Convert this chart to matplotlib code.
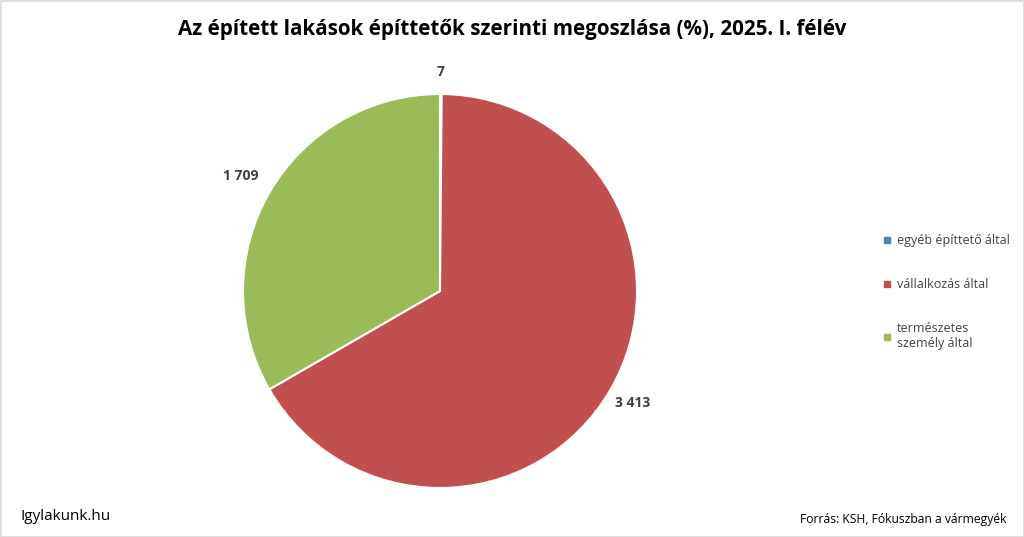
import numpy as np
import matplotlib
matplotlib.use("Agg")
import matplotlib.pyplot as plt
from matplotlib.patches import Rectangle
from matplotlib.lines import Line2D

plt.rcParams['font.family'] = ['Open Sans', 'DejaVu Sans']

categories = ["egyéb építtető által", "vállalkozás által", "természetes\nszemély által"]
values = [7, 3413, 1709]
value_labels = ["7", "3 413", "1 709"]
colors = ["#4F81BD", "#C0504D", "#9BBB59"]
label_dist = [1.11, 1.13, 1.17]

fig = plt.figure(figsize=(10.24, 5.37), dpi=100)
fig.patch.set_facecolor("white")

ax = fig.add_axes([243/1024, 49/537, 394/1024, 394/537])
wedges, _ = ax.pie(values, colors=colors, startangle=90, counterclock=False,
                   wedgeprops=dict(edgecolor="white", linewidth=1.5), radius=1)
ax.set_xlim(-1, 1)
ax.set_ylim(-1, 1)
ax.set_aspect("equal", adjustable="box")
ax.axis("off")

for w, lab, d in zip(wedges, value_labels, label_dist):
    ang = np.deg2rad((w.theta1 + w.theta2) / 2)
    ax.text(d * np.cos(ang), d * np.sin(ang), lab, ha="center", va="center",
            fontsize=10, fontweight="bold", color="#404040", clip_on=False)

fig.text(0.5, 1 - 30/537, "Az épített lakások építtetők szerinti megoszlása (%), 2025. I. félév",
         ha="center", va="center", fontsize=14.9, fontweight="bold", color="black")

handles = [Line2D([0], [0], marker="s", linestyle="none", markersize=4.5,
                  markerfacecolor=c, markeredgecolor=c) for c in colors]
leg = fig.legend(handles, categories, loc="upper left", bbox_to_anchor=(878/1024, 1 - 229/537),
                 frameon=False, fontsize=9, labelspacing=2.5, handlelength=0.6,
                 handletextpad=0.5, labelcolor="#404040", borderaxespad=0)

fig.text(20/1024, 1 - 516/537, "Igylakunk.hu", ha="left", va="center", fontsize=11, color="black")
fig.text(1006/1024, 1 - 519/537, "Forrás: KSH, Fókuszban a vármegyék", ha="right", va="center",
         fontsize=8.7, color="black")

fig.patches.append(Rectangle((0.5/1024, 0.5/537), 1 - 1/1024, 1 - 1/537, transform=fig.transFigure,
                             fill=False, edgecolor="#D9D9D9", linewidth=1.2))

fig.savefig("out.png", dpi=100)
